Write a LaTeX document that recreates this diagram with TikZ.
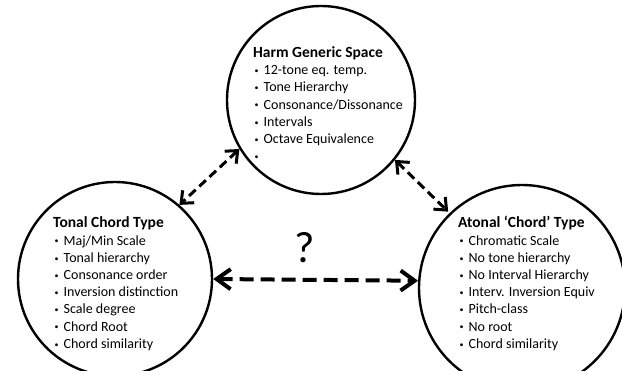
\documentclass[tikz,border=0pt]{standalone}
\usepackage{fontspec}
\setmainfont{Carlito}
\usetikzlibrary{arrows.meta}

\tikzset{
  space/.style={draw=black, circle, line width=2.4pt, inner sep=0pt},
  itembox/.style={anchor=base west, inner sep=0pt, font=\fontsize{14}{17.2}\selectfont},
  link/.style={line width=3pt, dash pattern=on 9pt off 5pt,
    {Straight Barb[length=10pt,width=17pt]}-{Straight Barb[length=10pt,width=17pt]}},
  biglink/.style={line width=4pt, dash pattern=on 14pt off 7pt,
    {Straight Barb[length=14pt,width=20pt]}-{Straight Barb[length=14pt,width=20pt]}}
}
\newcommand{\bl}{\hspace{1.5pt}\raisebox{1.2pt}{\fontsize{8}{8}\selectfont\textbullet}}
\newcommand{\ttl}[1]{\multicolumn{2}{@{}l}{\fontsize{15.5}{17.2}\selectfont\textbf{#1}}}

\begin{document}
\begin{tikzpicture}[x=1pt,y=-1pt]
                \useasboundingbox (0,0) rectangle (622,371);

                \node[space, minimum size=188pt] (harm) at (321,100) {};
                \node[space, minimum size=194pt] (tonal) at (115,279) {};
                \node[space, minimum size=206pt] (atonal) at (522,288) {};

                \node[itembox] (harmtxt) at (253,57.5) {\begin{tabular}[t]{@{}l@{\hspace{5pt}}l@{}}
                  \ttl{Harm Generic Space}\\
                  \bl & 12-tone eq. temp.\\
                  \bl & Tone Hierarchy\\
                  \bl & Consonance/Dissonance\\
                  \bl & Intervals\\
                  \bl & Octave Equivalence\\
                  \bl &
                \end{tabular}};
                \node[itembox] (tonaltxt) at (53,228) {\begin{tabular}[t]{@{}l@{\hspace{5pt}}l@{}}
                  \ttl{Tonal Chord Type}\\
                  \bl & Maj/Min Scale\\
                  \bl & Tonal hierarchy\\
                  \bl & Consonance order\\
                  \bl & Inversion distinction\\
                  \bl & Scale degree\\
                  \bl & Chord Root\\
                  \bl & Chord similarity
                \end{tabular}};
                \node[itembox] (atonaltxt) at (458,228) {\begin{tabular}[t]{@{}l@{\hspace{5pt}}l@{}}
                  \ttl{Atonal ‘Chord’ Type}\\
                  \bl & Chromatic Scale\\
                  \bl & No tone hierarchy\\
                  \bl & No Interval Hierarchy\\
                  \bl & Interv. Inversion Equiv\\
                  \bl & Pitch-class\\
                  \bl & No root\\
                  \bl & Chord similarity
                \end{tabular}};

                \node[font=\fontsize{44}{46}\selectfont, inner sep=0pt] (ask) at (305,248) {?};

                \draw[link] (harm.211) -- (tonal.49);
                \draw[link, shorten >=2pt] (harm.321) -- (atonal.134);
                \draw[biglink] (tonal.east) -- (atonal.176);
            \end{tikzpicture}
\end{document}
